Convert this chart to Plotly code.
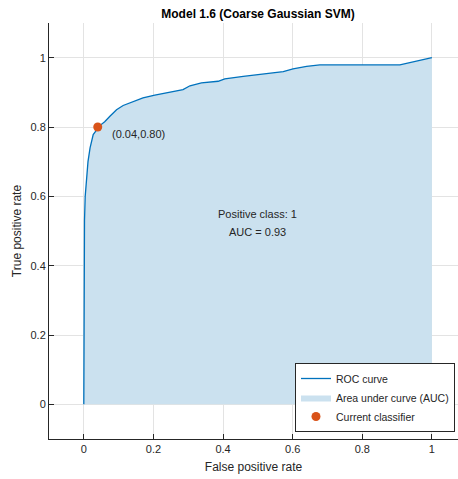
import plotly.graph_objects as go

fpr = [0.0, 0.0, 0.001, 0.002, 0.004, 0.007, 0.012, 0.018, 0.027, 0.046, 0.06, 0.075, 0.094, 0.113,
       0.142, 0.170, 0.204, 0.247, 0.285, 0.305, 0.338, 0.386, 0.405, 0.458, 0.515, 0.573, 0.601,
       0.640, 0.678, 0.736, 0.908, 1.0]
tpr = [0.0, 0.30, 0.45, 0.53, 0.60, 0.65, 0.70, 0.74, 0.778, 0.804, 0.815, 0.831, 0.850, 0.862,
       0.874, 0.884, 0.892, 0.901, 0.908, 0.919, 0.927, 0.932, 0.939, 0.946, 0.953, 0.960, 0.968,
       0.975, 0.979, 0.979, 0.979, 1.0]
current = (0.04, 0.80)
point_label = "(0.04,0.80)"
title = "Model 1.6 (Coarse Gaussian SVM)"
info_lines = ["Positive class: 1", "AUC = 0.93"]
tickvals = [0, 0.2, 0.4, 0.6, 0.8, 1]
ticktext = ["0", "0.2", "0.4", "0.6", "0.8", "1"]

FONT = "Liberation Sans, Arial, Helvetica, sans-serif"
LINE = "#0072BD"
FILL = "#cbe1ef"
DOT = "#D95319"
TXT = "#262626"

fig = go.Figure()
fig.add_trace(go.Scatter(x=fpr, y=tpr, mode="lines", fill="tozeroy", fillcolor=FILL,
                         line=dict(width=0, color=FILL), name="Area under curve (AUC)",
                         legendrank=2, hoverinfo="skip"))
fig.add_trace(go.Scatter(x=fpr, y=tpr, mode="lines", line=dict(color=LINE, width=1.3),
                         name="ROC curve", legendrank=1))
fig.add_trace(go.Scatter(x=[current[0]], y=[current[1]], mode="markers",
                         marker=dict(color=DOT, size=9), name="Current classifier", legendrank=3))

fig.add_annotation(x=0.075, y=0.78, text=point_label, showarrow=False, xanchor="left",
                   yanchor="middle", font=dict(size=11, color=TXT, family=FONT))
fig.add_annotation(x=0.5, y=0.548, text=info_lines[0], showarrow=False,
                   font=dict(size=11, color=TXT, family=FONT))
fig.add_annotation(x=0.5, y=0.496, text=info_lines[1], showarrow=False,
                   font=dict(size=11, color=TXT, family=FONT))

axis_common = dict(tickvals=tickvals, ticktext=ticktext, showgrid=True, gridcolor="#e3e3e3",
                   gridwidth=1, zeroline=False, showline=True, linecolor=TXT, linewidth=1,
                   ticks="inside", ticklen=5, tickcolor=TXT,
                   tickfont=dict(size=11, color=TXT, family=FONT))

fig.update_layout(
    width=458, height=479,
    margin=dict(l=49, r=0, t=23, b=40, autoexpand=False),
    plot_bgcolor="white", paper_bgcolor="white",
    font=dict(family=FONT, color=TXT),
    title=dict(text="<b>" + title + "</b>", x=258 / 458, xanchor="center", y=1 - 14 / 479,
               yanchor="middle", font=dict(size=12, color="black", family=FONT)),
    xaxis=dict(range=[-0.1, 1.075], automargin=False,
               title=dict(text="False positive rate", standoff=8,
                          font=dict(size=12, color=TXT, family=FONT)), **axis_common),
    yaxis=dict(range=[-0.1, 1.1], automargin=False,
               title=dict(text="True positive rate", standoff=6,
                          font=dict(size=12, color=TXT, family=FONT)), **axis_common),
    legend=dict(x=(455 - 49) / 409, y=(439 - 432) / 416, xanchor="right", yanchor="bottom",
                bgcolor="white", bordercolor=TXT, borderwidth=1,
                font=dict(size=10.5, color=TXT, family=FONT), tracegroupgap=0,
                itemwidth=30),
    showlegend=True,
)

fig.write_html("out.html")
